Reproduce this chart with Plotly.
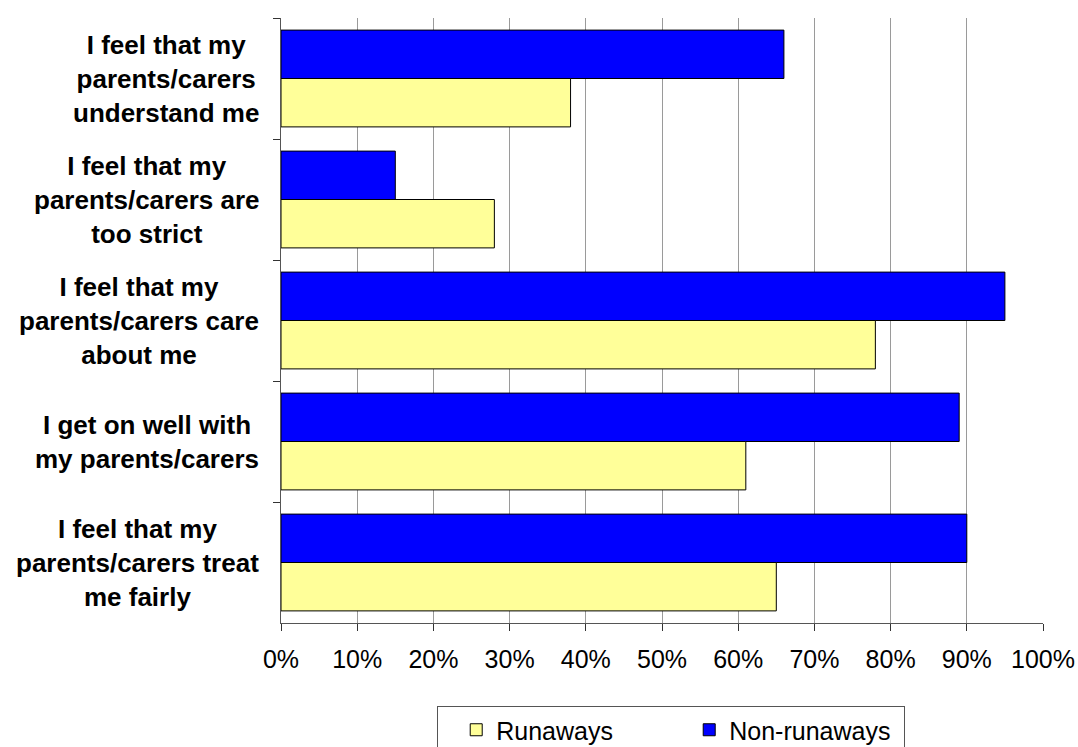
import plotly.graph_objects as go

categories = [
    "I feel that my<br>parents/carers<br>understand me",
    "I feel that my<br>parents/carers are<br>too strict",
    "I feel that my<br>parents/carers care<br>about me",
    "I get on well with<br>my parents/carers",
    "I feel that my<br>parents/carers treat<br>me fairly",
]
runaways = [38, 28, 78, 61, 65]
non_runaways = [66, 15, 95, 89, 90]
x_ticks = list(range(0, 101, 10))

FONT = "Liberation Sans, Arial, sans-serif"

fig = go.Figure()
fig.add_trace(go.Bar(
    y=categories, x=non_runaways, orientation="h", name="Non-runaways",
    marker=dict(color="#0000FF", line=dict(color="#000000", width=1)),
    legendrank=2,
))
fig.add_trace(go.Bar(
    y=categories, x=runaways, orientation="h", name="Runaways",
    marker=dict(color="#FFFF99", line=dict(color="#000000", width=1)),
    legendrank=1,
))

for c in categories:
    fig.add_annotation(
        x=0, xref="paper", xanchor="right", xshift=-20,
        y=c, yref="y", yanchor="middle",
        text="<b>" + c + "</b>", showarrow=False, align="center",
        font=dict(family=FONT, size=26, color="#000000"),
    )

fig.update_layout(
    width=1078, height=747,
    margin=dict(l=281, r=35, t=18, b=124, autoexpand=False),
    paper_bgcolor="#FFFFFF", plot_bgcolor="#FFFFFF",
    barmode="group", bargap=0.2, bargroupgap=0,
    font=dict(family=FONT, size=25, color="#000000"),
    showlegend=True,
    legend=dict(
        orientation="h", x=0.205, xanchor="left",
        yref="container", y=1 - 706 / 747, yanchor="top",
        bordercolor="#555555", borderwidth=1, bgcolor="#FFFFFF",
        font=dict(family=FONT, size=25, color="#000000"),
        entrywidth=170, indentation=18,
    ),
    xaxis=dict(
        range=[0, 100], tickvals=x_ticks, ticktext=[f"{v}%" for v in x_ticks],
        automargin=False,
        showgrid=True, gridcolor="#9A9A9A", gridwidth=1, zeroline=False,
        showline=True, linecolor="#555555", linewidth=1,
        ticks="outside", ticklen=7, tickcolor="#333333",
        ticklabelstandoff=7,
        tickfont=dict(family=FONT, size=25, color="#000000"),
    ),
    yaxis=dict(
        type="category", categoryorder="array", categoryarray=categories,
        autorange="reversed", tickson="boundaries", automargin=False,
        ticks="outside", ticklen=7, tickcolor="#333333",
        showticklabels=False, showgrid=False, zeroline=False,
        showline=True, linecolor="#555555", linewidth=1,
    ),
)

fig.write_html("out.html")
